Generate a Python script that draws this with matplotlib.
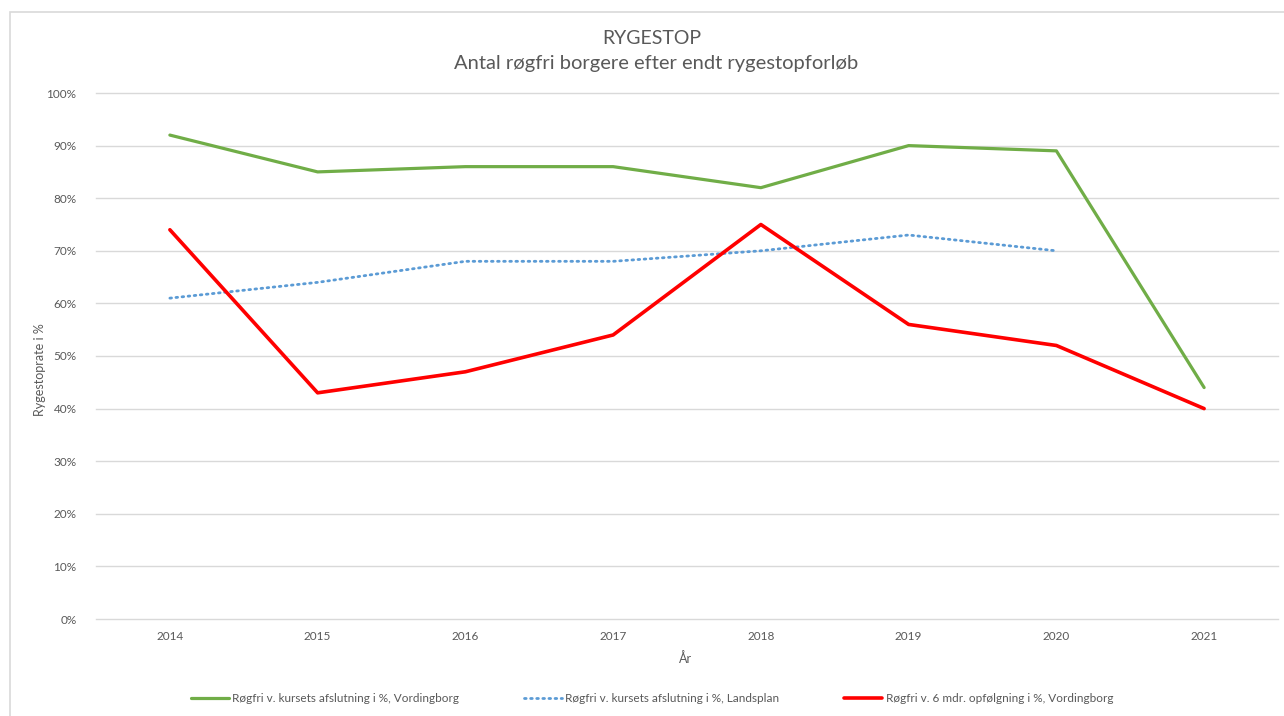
import matplotlib
matplotlib.use("Agg")
import matplotlib.pyplot as plt
from matplotlib.patches import Rectangle
from matplotlib.ticker import PercentFormatter

years = ["2014", "2015", "2016", "2017", "2018", "2019", "2020", "2021"]
vording_end = [92, 85, 86, 86, 82, 90, 89, 44]
landsplan_end = [61, 64, 68, 68, 70, 73, 70]
vording_6m = [74, 43, 47, 54, 75, 56, 52, 40]

labels = [
    "Røgfri v. kursets afslutning i %, Vordingborg",
    "Røgfri v. kursets afslutning i %, Landsplan",
    "Røgfri v. 6 mdr. opfølgning i %, Vordingborg",
]

plt.rcParams['font.family'] = ['Lato', 'DejaVu Sans']
gray = "#595959"

fig = plt.figure(figsize=(12.84, 7.16), dpi=100)
W, H = 1284, 716
fig.patches.append(Rectangle((10 / W, -0.01), 1.02, 1 - 12 / H + 0.01, transform=fig.transFigure,
                             fill=False, edgecolor="#D9D9D9", linewidth=1.2))

ax = fig.add_axes([96 / W, 1 - 619 / H, (1278 - 96) / W, (619 - 93) / H])
x = list(range(len(years)))
l1, = ax.plot(x, vording_end, color="#70AD47", linewidth=2.3, solid_capstyle="round")
l2, = ax.plot(x[:len(landsplan_end)], landsplan_end, color="#5B9BD5", linewidth=2.0,
              linestyle=(0, (0.6, 1.6)), dash_capstyle="round")
l3, = ax.plot(x, vording_6m, color="#FF0000", linewidth=2.6, solid_capstyle="round")

ax.set_xlim(-0.5, len(years) - 0.5)
ax.set_ylim(0, 100)
ax.set_yticks(range(0, 101, 10))
ax.yaxis.set_major_formatter(PercentFormatter(decimals=0))
ax.set_xticks(x)
ax.set_xticklabels(years)
ax.grid(axis="y", color="#D9D9D9", linewidth=1.0)
for gl in ax.get_ygridlines():
    gl.set_clip_on(False)
ax.set_axisbelow(True)
for s in ax.spines.values():
    s.set_visible(False)
ax.tick_params(axis="both", length=0, labelsize=8.5, labelcolor=gray)
ax.tick_params(axis="y", pad=14)
ax.tick_params(axis="x", pad=9)

fig.text(652 / W, 1 - 38 / H, "RYGESTOP",
         ha="center", va="center", fontsize=14, color=gray)
fig.text(656 / W, 1 - 63 / H, "Antal røgfri borgere efter endt rygestopforløb",
         ha="center", va="center", fontsize=14.5, color=gray)
fig.text(40 / W, 1 - 370 / H, "Rygestoprate i %", rotation=90, ha="center", va="center",
         fontsize=9, color=gray)
fig.text(686 / W, 1 - 659 / H, "År", ha="center", va="center", fontsize=9, color=gray)

fig.legend([l1, l2, l3], labels, loc="center", bbox_to_anchor=(652 / W, 1 - 699 / H),
           ncol=3, frameon=False, fontsize=8.5, labelcolor=gray, handlelength=3.2,
           handletextpad=0.3, columnspacing=5.5)

fig.savefig("out.png", dpi=100, facecolor="white")
